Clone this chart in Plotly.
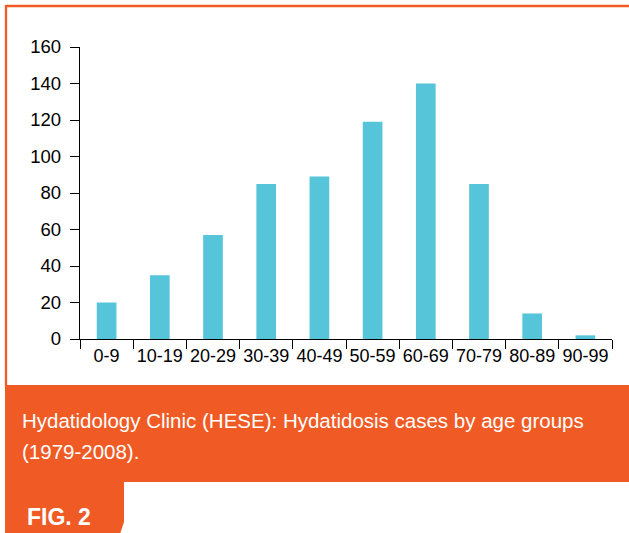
import plotly.graph_objects as go

age_groups = ["0-9", "10-19", "20-29", "30-39", "40-49", "50-59", "60-69", "70-79", "80-89", "90-99"]
cases = [20, 35, 57, 85, 89, 119, 140, 85, 14, 2]
y_ticks = [0, 20, 40, 60, 80, 100, 120, 140, 160]
caption_lines = ["Hydatidology Clinic (HESE): Hydatidosis cases by age groups", "(1979-2008)."]
fig_label = "FIG. 2"

W, H = 629, 533
L, R, T, B = 80, 17, 47, 194
PW, PH = W - L - R, H - T - B

def px(x):
    return (x - L) / PW

def py(y):
    return (H - B - y) / PH

ORANGE = "#F05A24"
BAR = "#56C5D9"
FONT = "Liberation Sans, Arial, Helvetica, sans-serif"

fig = go.Figure(go.Bar(x=age_groups, y=cases, marker=dict(color=BAR, line=dict(width=0)), width=0.37))

shapes = [
    dict(type="line", xref="paper", yref="paper", x0=px(6), x1=px(640), y0=py(6), y1=py(6),
         line=dict(color=ORANGE, width=2.3)),
    dict(type="line", xref="paper", yref="paper", x0=px(6), x1=px(6), y0=py(5), y1=py(386),
         line=dict(color=ORANGE, width=2.3)),
    dict(type="rect", xref="paper", yref="paper", x0=px(5), x1=px(640), y0=py(385), y1=py(482),
         fillcolor=ORANGE, line=dict(width=0)),
    dict(type="path", xref="paper", yref="paper",
         path="M {a},{b} L {c},{b} L {c},{d} L {e},{f} L {a},{f} Z".format(
             a=px(5), b=py(481), c=px(124), d=py(522), e=px(118), f=py(540)),
         fillcolor=ORANGE, line=dict(width=0)),
]

caption_y = [420, 451]
annotations = [
    dict(text=t, xref="paper", yref="paper", x=px(20), y=py(yy), xanchor="left", yanchor="middle",
         showarrow=False, align="left", font=dict(family=FONT, size=20.5, color="white"))
    for t, yy in zip(caption_lines, caption_y)
] + [
    dict(text="<b>" + fig_label + "</b>", xref="paper", yref="paper", x=px(25), y=py(517), xanchor="left",
         yanchor="middle", showarrow=False, font=dict(family=FONT, size=23, color="white")),
]

fig.update_layout(
    width=W, height=H,
    margin=dict(l=L, r=R, t=T, b=B, pad=0, autoexpand=False),
    paper_bgcolor="white", plot_bgcolor="white",
    showlegend=False,
    shapes=shapes, annotations=annotations,
    font=dict(family=FONT, size=18, color="black"),
    xaxis=dict(type="category", range=[-0.5, 9.5], showline=True, linecolor="black", linewidth=1.3,
               ticks="outside", ticklen=9, tickcolor="black", tickwidth=1.3, tickson="boundaries",
               tickangle=0, automargin=False,
               showgrid=False, zeroline=False, tickfont=dict(family=FONT, size=18, color="black")),
    yaxis=dict(range=[0, 160], tickvals=y_ticks, showline=True, linecolor="black", linewidth=1.3,
               ticks="outside", ticklen=9, tickcolor="black", tickwidth=1.3, automargin=False,
               showgrid=False, zeroline=False, ticklabelstandoff=5,
               tickfont=dict(family=FONT, size=18.5, color="black")),
)

fig.write_html(
    "out.html",
    config={"displayModeBar": False},
    post_script="document.body.style.margin='0';document.body.style.overflow='hidden';",
)
